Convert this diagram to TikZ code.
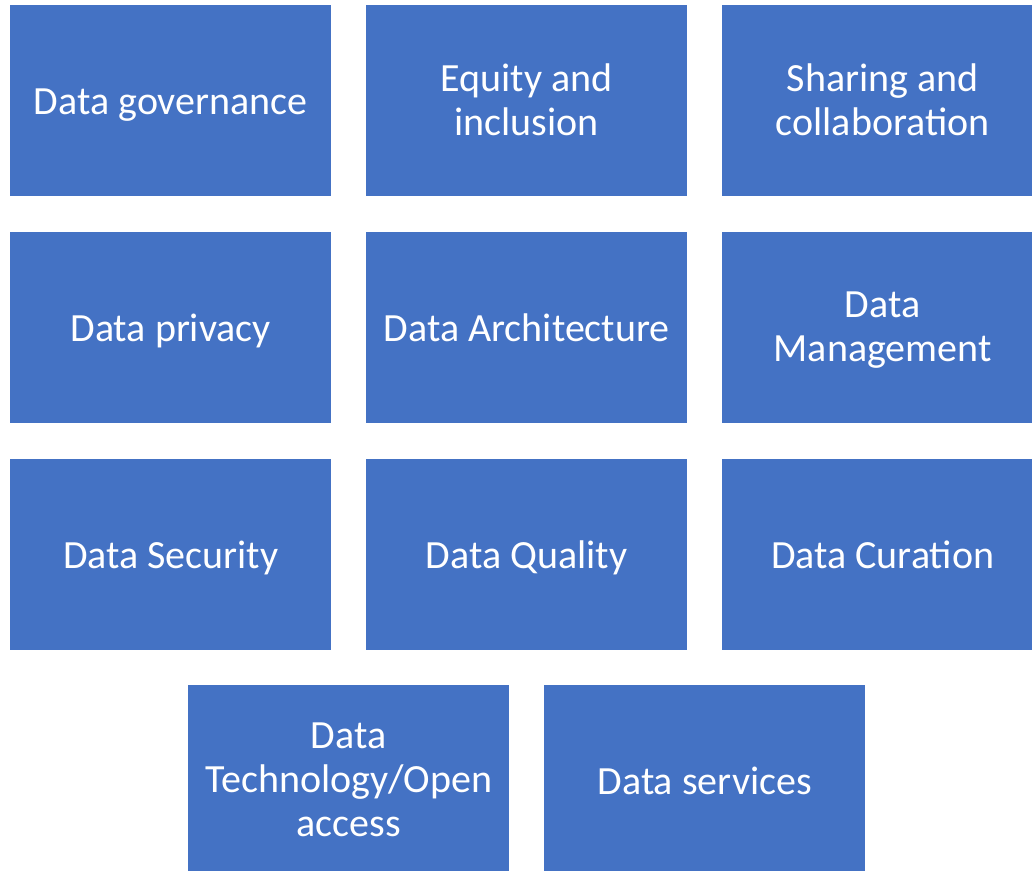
\documentclass[tikz,border=0pt]{standalone}
\usepackage{fontspec}
\setmainfont{Carlito}
\definecolor{boxblue}{HTML}{4472C4}
\newcommand\lnstrut{\rule[-6.5pt]{0pt}{40pt}}
\begin{document}
\begin{tikzpicture}[x=1pt,y=-1pt,
  tiletext/.style={text=white, align=center, inner sep=0pt, font=\fontsize{40}{43.8}\selectfont,
    execute at begin node=\lnstrut, execute at end node=\lnstrut},
  tilebox/.style={fill=boxblue, draw=none, minimum width=321pt, minimum height=191pt, anchor=north west},
  tile/.style={tilebox, tiletext},
  multitext/.style={tiletext, yshift=-2.5pt}]
\useasboundingbox (0,0) rectangle (1032,870);
\begin{scope}
\clip (0,0) rectangle (1032,870);
\node[tile] (gov) at (10,5) {Data governance};
\node[tile] (equ) at (366,5) {};
\node[tile] (sha) at (722,5) {};
\node[tile] (pri) at (10,232) {Data privacy};
\node[tile] (arc) at (366,232) {Data Architecture};
\node[tile] (man) at (722,232) {};
\node[tile] (sec) at (10,459) {Data Security};
\node[tile] (qua) at (366,459) {Data Quality};
\node[tile] (cur) at (722,459) {Data Curation};
\node[tile] (tec) at (188,685) {};
\node[tile] (ser) at (544,685) {Data services};
\node[multitext] (equt) at (equ.center) {Equity and\\inclusion};
\node[multitext] (shat) at (sha.center) {Sharing and\\collaboration};
\node[multitext] (mant) at (man.center) {Data\\Management};
\node[multitext] (tect) at (tec.center) {Data\\Technology/Open\\access};
\end{scope}
\end{tikzpicture}
\end{document}
